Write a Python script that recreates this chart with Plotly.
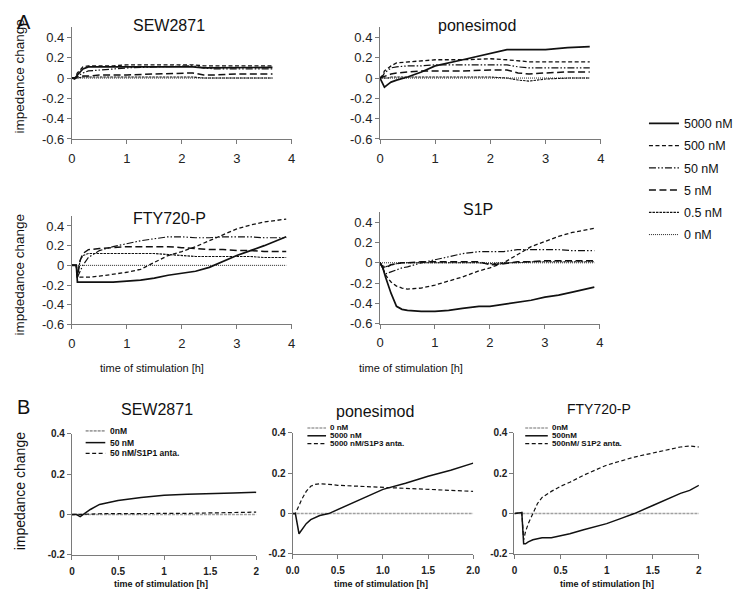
import plotly.graph_objects as go

W, H = 745, 592


def px(x):
    return x / W


def py(y):
    return 1 - y / H


FONT = "Liberation Sans, Arial, sans-serif"
INK = "#111111"
AXC = "#7a7a7a"

# ---------------- panel A data ----------------
a_labels = ["5000 nM", "500 nM", "50 nM", "5 nM", "0.5 nM", "0 nM"]

sew_t = [0, 0.05, 0.1, 0.2, 0.3, 0.5, 0.75, 1.0, 1.5, 2.0, 2.2, 2.4, 2.6, 3.0, 3.3, 3.65]
sew_5000 = [0, -0.01, 0.03, 0.09, 0.11, 0.11, 0.11, 0.11, 0.11, 0.11, 0.11, 0.10, 0.10, 0.10, 0.10, 0.105]
sew_500 = [0, 0.0, 0.05, 0.11, 0.12, 0.12, 0.12, 0.13, 0.13, 0.13, 0.13, 0.12, 0.12, 0.12, 0.12, 0.12]
sew_50 = [0, 0.0, 0.02, 0.05, 0.07, 0.08, 0.09, 0.10, 0.11, 0.12, 0.12, 0.10, 0.09, 0.09, 0.09, 0.09]
sew_5 = [0, 0.0, 0.01, 0.02, 0.02, 0.03, 0.03, 0.03, 0.04, 0.05, 0.05, 0.03, 0.03, 0.04, 0.04, 0.04]
sew_05 = [0, 0.0, 0.0, 0.01, 0.01, 0.01, 0.01, 0.01, 0.01, 0.01, 0.01, 0.0, 0.0, 0.0, 0.0, 0.0]
sew_0 = [0, 0, 0, 0, 0, 0, 0, 0, 0, 0, 0, 0, 0, 0, 0, 0]

pon_t = [0, 0.05, 0.08, 0.15, 0.2, 0.3, 0.5, 0.75, 1.0, 1.5, 2.0, 2.3, 2.5, 2.7, 3.0, 3.4, 3.8]
pon_5000 = [0, -0.05, -0.09, -0.06, -0.04, -0.02, 0.01, 0.06, 0.12, 0.18, 0.24, 0.28, 0.28, 0.28, 0.28, 0.30, 0.31]
pon_500 = [0, 0.03, 0.07, 0.10, 0.12, 0.15, 0.16, 0.17, 0.18, 0.18, 0.19, 0.18, 0.17, 0.16, 0.16, 0.16, 0.16]
pon_50 = [0, 0.02, 0.05, 0.08, 0.10, 0.11, 0.12, 0.12, 0.13, 0.13, 0.13, 0.13, 0.11, 0.10, 0.10, 0.10, 0.10]
pon_5 = [0, 0.01, 0.02, 0.03, 0.04, 0.05, 0.06, 0.07, 0.07, 0.07, 0.08, 0.08, 0.05, 0.04, 0.05, 0.06, 0.06]
pon_05 = [0, 0.0, 0.0, 0.0, 0.01, 0.01, 0.01, 0.01, 0.01, 0.01, 0.01, 0.0, -0.02, -0.03, -0.01, 0.0, 0.0]
pon_0 = [0, 0, 0, 0, 0, 0, 0, 0, 0, 0, 0, 0, 0, 0, 0, 0, 0]

fty_t = [0, 0.08, 0.1, 0.15, 0.2, 0.3, 0.5, 0.75, 1.0, 1.25, 1.5, 1.75, 2.0, 2.25, 2.5, 2.75, 3.0, 3.25, 3.5, 3.9]
fty_5000 = [0, 0, -0.17, -0.17, -0.17, -0.17, -0.17, -0.17, -0.16, -0.15, -0.13, -0.10, -0.08, -0.06, -0.02, 0.04, 0.10, 0.15, 0.20, 0.29]
fty_500 = [0, 0, -0.13, -0.12, -0.12, -0.12, -0.11, -0.09, -0.07, -0.04, 0.03, 0.10, 0.14, 0.19, 0.25, 0.31, 0.37, 0.41, 0.44, 0.47]
fty_50 = [0, 0, -0.12, -0.05, 0.0, 0.08, 0.15, 0.19, 0.22, 0.25, 0.27, 0.29, 0.29, 0.28, 0.28, 0.29, 0.29, 0.29, 0.28, 0.28]
fty_5 = [0, 0, -0.12, 0.05, 0.12, 0.16, 0.17, 0.18, 0.19, 0.19, 0.19, 0.19, 0.18, 0.17, 0.16, 0.16, 0.15, 0.15, 0.14, 0.14]
fty_05 = [0, 0, -0.10, 0.05, 0.10, 0.12, 0.12, 0.12, 0.12, 0.12, 0.12, 0.11, 0.10, 0.09, 0.09, 0.09, 0.09, 0.09, 0.08, 0.08]
fty_0 = [0, 0, 0, 0, 0, 0, 0, 0, 0, 0, 0, 0, 0, 0, 0, 0, 0, 0, 0, 0]

s1p_t = [0, 0.05, 0.1, 0.2, 0.3, 0.4, 0.5, 0.75, 1.0, 1.25, 1.5, 1.8, 2.0, 2.25, 2.5, 2.75, 3.0, 3.25, 3.5, 3.9]
s1p_5000 = [0, -0.05, -0.14, -0.30, -0.43, -0.46, -0.47, -0.48, -0.48, -0.47, -0.45, -0.43, -0.43, -0.41, -0.39, -0.37, -0.34, -0.32, -0.29, -0.24]
s1p_500 = [0, -0.05, -0.12, -0.19, -0.23, -0.25, -0.26, -0.25, -0.22, -0.18, -0.14, -0.08, -0.05, 0.0, 0.08, 0.16, 0.21, 0.26, 0.30, 0.34]
s1p_50 = [0, -0.05, -0.11, -0.09, -0.07, -0.05, -0.04, 0.0, 0.03, 0.06, 0.09, 0.11, 0.11, 0.11, 0.13, 0.13, 0.13, 0.13, 0.12, 0.12]
s1p_5 = [0, -0.04, -0.05, -0.02, -0.01, 0.0, 0.0, 0.01, 0.01, 0.01, 0.01, 0.01, -0.02, -0.01, 0.01, 0.01, 0.02, 0.02, 0.02, 0.02]
s1p_05 = [0, -0.03, -0.04, -0.02, -0.01, 0.0, 0.0, 0.0, 0.0, 0.0, 0.0, 0.0, -0.01, 0.0, 0.0, 0.01, 0.01, 0.01, 0.01, 0.01]
s1p_0 = [0, 0, 0, 0, 0, 0, 0, 0, 0, 0, 0, 0, 0, 0, 0, 0, 0, 0, 0, 0]

a_xticks = [0, 1, 2, 3, 4]
a_xtext = ["0", "1", "2", "3", "4"]
a_yticks = [-0.6, -0.4, -0.2, 0, 0.2, 0.4]
a_ytext = ["-0.6", "-0.4", "-0.2", "0", "0.2", "0.4"]

# ---------------- panel B data ----------------
bsew_t = [0, 0.05, 0.09, 0.15, 0.2, 0.3, 0.4, 0.5, 0.75, 1.0, 1.25, 1.5, 1.75, 2.0]
bsew_0 = [0, 0, 0, 0, 0, 0, 0, 0, 0, 0, 0, 0, 0, 0]
bsew_50 = [0, 0.0, -0.01, 0.01, 0.025, 0.05, 0.06, 0.07, 0.085, 0.095, 0.10, 0.105, 0.107, 0.11]
bsew_anta = [0, 0.0, 0.0, 0.0, 0.002, 0.004, 0.004, 0.005, 0.005, 0.006, 0.006, 0.008, 0.01, 0.012]

bpon_t = [0, 0.03, 0.07, 0.1, 0.15, 0.2, 0.25, 0.3, 0.4, 0.5, 0.75, 1.0, 1.25, 1.5, 1.75, 2.0]
bpon_0 = [0, 0, 0, 0, 0, 0, 0, 0, 0, 0, 0, 0, 0, 0, 0, 0]
bpon_5000 = [0, 0.0, -0.10, -0.08, -0.05, -0.03, -0.02, -0.01, 0.0, 0.02, 0.07, 0.12, 0.15, 0.185, 0.215, 0.25]
bpon_anta = [0, 0.0, 0.04, 0.07, 0.11, 0.135, 0.145, 0.148, 0.145, 0.14, 0.135, 0.13, 0.125, 0.12, 0.115, 0.11]

bfty_t = [0, 0.08, 0.1, 0.12, 0.15, 0.2, 0.25, 0.3, 0.4, 0.5, 0.6, 0.75, 1.0, 1.15, 1.3, 1.5, 1.65, 1.8, 1.9, 2.0]
bfty_0 = [0, 0, 0, 0, 0, 0, 0, 0, 0, 0, 0, 0, 0, 0, 0, 0, 0, 0, 0, 0]
bfty_500 = [0, 0.005, -0.15, -0.15, -0.14, -0.13, -0.125, -0.12, -0.12, -0.11, -0.10, -0.08, -0.05, -0.025, 0.0, 0.04, 0.07, 0.10, 0.115, 0.14]
bfty_anta = [0, 0.005, -0.13, -0.09, -0.05, 0.0, 0.05, 0.08, 0.11, 0.135, 0.155, 0.19, 0.24, 0.26, 0.28, 0.30, 0.315, 0.33, 0.335, 0.33]

bsew_labels = ["0nM", "50 nM", "50 nM/S1P1 anta."]
bpon_labels = ["0 nM", "5000 nM", "5000 nM/S1P3 anta."]
bfty_labels = ["0nM", "500nM", "500nM/ S1P2 anta."]

b_xticks = [0, 0.5, 1, 1.5, 2]
b_xtext = ["0", "0.5", "1", "1.5", "2"]
b_xtext_pon = ["0.0", "0.5", "1.0", "1.5", "2.0"]
b_yticks = [-0.2, 0, 0.2, 0.4]
b_ytext = ["-0.2", "0", "0.2", "0.4"]

# line styles
a_styles = [
    dict(width=1.7, dash="solid"),
    dict(width=1.3, dash="4px,2.5px"),
    dict(width=1.2, dash="7px,2px,1.5px,2px,1.5px,2px"),
    dict(width=1.5, dash="7px,3.5px"),
    dict(width=1.1, dash="2.5px,1px"),
    dict(width=0.9, dash="1px,1px"),
]
b_styles = [
    dict(width=1.6, dash="3px,1px", color="#a0a0a0"),
    dict(width=1.5, dash="solid", color=INK),
    dict(width=1.2, dash="4px,2.5px", color=INK),
]

fig = go.Figure()

a_panels = [
    (1, sew_t, [sew_5000, sew_500, sew_50, sew_5, sew_05, sew_0]),
    (2, pon_t, [pon_5000, pon_500, pon_50, pon_5, pon_05, pon_0]),
    (3, fty_t, [fty_5000, fty_500, fty_50, fty_5, fty_05, fty_0]),
    (4, s1p_t, [s1p_5000, s1p_500, s1p_50, s1p_5, s1p_05, s1p_0]),
]
for k, t, series in a_panels:
    for lab, vals, st in zip(a_labels, series, a_styles):
        fig.add_trace(go.Scatter(
            x=t, y=vals, mode="lines", name=lab, legendgroup=lab,
            showlegend=(k == 1), xaxis=f"x{k}", yaxis=f"y{k}",
            line=dict(color=INK, **st), hoverinfo="skip",
        ))

b_panels = [
    (5, bsew_t, [bsew_0, bsew_50, bsew_anta], bsew_labels),
    (6, bpon_t, [bpon_0, bpon_5000, bpon_anta], bpon_labels),
    (7, bfty_t, [bfty_0, bfty_500, bfty_anta], bfty_labels),
]
for k, t, series, labs in b_panels:
    for lab, vals, st in zip(labs, series, b_styles):
        fig.add_trace(go.Scatter(
            x=t, y=vals, mode="lines", name=lab, showlegend=False,
            xaxis=f"x{k}", yaxis=f"y{k}", line=st, hoverinfo="skip",
        ))

layout = {}


def axes(k, xdom, ydom, xr, yr, xt, xtt, yt, ytt, fsize, weight="normal"):
    common = dict(showline=True, linecolor=AXC, linewidth=1, ticks="outside",
                  ticklen=4, tickcolor=AXC, showgrid=False, zeroline=False,
                  tickfont=dict(family=FONT, size=fsize, color="#222", weight=weight))
    layout[f"xaxis{k}"] = dict(domain=xdom, range=xr, anchor=f"y{k}",
                               tickvals=xt, ticktext=xtt, ticklabelstandoff=3, **common)
    layout[f"yaxis{k}"] = dict(domain=ydom, range=yr, anchor=f"x{k}",
                               tickvals=yt, ticktext=ytt, **common)


axes(1, [px(58), px(282)], [py(128), py(13.6)], [0, 4], [-0.6, 0.5], a_xticks, a_xtext, a_yticks, a_ytext, 13)
axes(2, [px(372), px(597)], [py(128), py(13.6)], [0, 4], [-0.6, 0.5], a_xticks, a_xtext, a_yticks, a_ytext, 13)
axes(3, [px(58), px(282)], [py(318), py(207)], [0, 4], [-0.6, 0.5], a_xticks, a_xtext, a_yticks, a_ytext, 13)
axes(4, [px(372), px(596)], [py(317), py(203)], [0, 4], [-0.6, 0.5], a_xticks, a_xtext, a_yticks, a_ytext, 13)
axes(5, [px(58), px(246)], [py(554), py(430)], [0, 2], [-0.2, 0.4], b_xticks, b_xtext, b_yticks, b_ytext, 10, "bold")
axes(6, [px(283), px(467)], [py(553), py(429)], [0, 2], [-0.2, 0.4], b_xticks, b_xtext_pon, b_yticks, b_ytext, 10, "bold")
axes(7, [px(509), px(697)], [py(553), py(429)], [0, 2], [-0.2, 0.4], b_xticks, b_xtext, b_yticks, b_ytext, 10, "bold")

annotations = []


def text(x, y, s, size, angle=0, bold=False, xanchor="center"):
    annotations.append(dict(
        x=px(x), y=py(y), xref="paper", yref="paper", text=(f"<b>{s}</b>" if bold else s),
        showarrow=False, textangle=angle, xanchor=xanchor, yanchor="middle",
        font=dict(family=FONT, size=size, color=INK),
    ))


text(0, 8, "A", 20, xanchor="left")
text(0, 403, "B", 20, xanchor="left")
text(157, 12, "SEW2871", 16)
text(471, 12, "ponesimod", 16)
text(157, 209, "FTY720-P", 16)
text(472, 200, "S1P", 16)
text(145, 405, "SEW2871", 16)
text(367, 407, "ponesimod", 16)
text(595, 405, "FTY720-P", 14)
text(5, 64, "impedance change", 13.5, angle=-90)
text(5, 267, "impdedance change", 13.5, angle=-90)
text(6, 488, "impedance change", 14, angle=-90)
text(140, 363, "time of stimulation [h]", 11)
text(404, 363, "time of stimulation [h]", 11)
text(149, 584, "time of stimulation [h]", 9, bold=True)
text(373, 584, "time of stimulation [h]", 9, bold=True)
text(603, 584, "time of stimulation [h]", 9, bold=True)

# in-plot legends of panel B
shapes = []
b_leg = [
    (bsew_labels, 72, 92, 95, [427, 439, 450], 8.5),
    (bpon_labels, 298, 317, 319, [424, 432, 440], 8),
    (bfty_labels, 520, 543, 545, [424, 432, 440], 8),
]
for labs, x0, x1, xt, ys, fs in b_leg:
    for lab, yy, st in zip(labs, ys, b_styles):
        shapes.append(dict(type="line", xref="paper", yref="paper",
                           x0=px(x0), x1=px(x1), y0=py(yy), y1=py(yy),
                           line=dict(color=st["color"], width=st["width"], dash=st["dash"])))
        text(xt, yy, lab, fs, bold=True, xanchor="left")

fig.update_layout(
    width=W, height=H,
    margin=dict(l=0, r=0, t=0, b=0),
    paper_bgcolor="white", plot_bgcolor="white",
    font=dict(family=FONT, color=INK),
    annotations=annotations, shapes=shapes,
    legend=dict(x=px(641), y=py(97), xanchor="left", yanchor="top",
                traceorder="grouped", tracegroupgap=3,
                font=dict(family=FONT, size=12.5, color=INK),
                bgcolor="rgba(0,0,0,0)"),
    **layout,
)

fig.write_html("out.html")
